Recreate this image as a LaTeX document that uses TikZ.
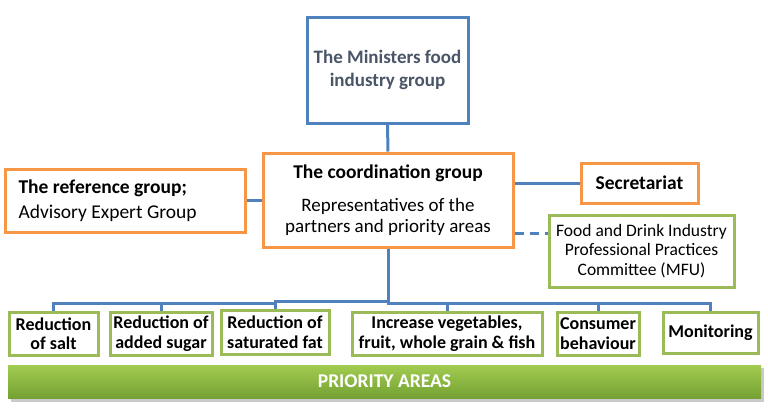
\documentclass[tikz,border=0pt]{standalone}
\usepackage{fontspec}
\setmainfont{Carlito}
\definecolor{lblue}{HTML}{4F81BD}
\definecolor{orng}{HTML}{F79646}
\definecolor{grn}{HTML}{9BBB59}
\definecolor{slate}{HTML}{4A5568}
\definecolor{bartop}{HTML}{A2CC50}
\definecolor{barbot}{HTML}{74A133}
\tikzset{
  conn/.style={draw=lblue, line width=3pt},
  obox/.style={draw=orng, line width=3pt, fill=white, inner sep=0pt},
  gbox/.style={draw=grn, line width=3pt, fill=white, inner sep=0pt, align=center},
  bbox/.style={draw=lblue, line width=3pt, fill=white, inner sep=0pt, align=center},
  prio/.style={gbox, font=\fontsize{18}{19.5}\selectfont\bfseries}
}
\begin{document}
\begin{tikzpicture}[x=1pt,y=-1pt]
\useasboundingbox (0,0) rectangle (768,416);
% bar
\fill[black!35, opacity=0.6] (11,368) rectangle (764,402);
\node[inner sep=0pt, minimum width=753pt, minimum height=33pt, top color=bartop, bottom color=barbot, draw=none,
  text=white, font=\fontsize{19.5}{22}\selectfont\bfseries] (bar) at (384.5,381.5) {PRIORITY AREAS};

% top nodes
\node[bbox, minimum width=161pt, minimum height=106pt, text=slate, font=\fontsize{19}{22.5}\selectfont\bfseries] (min) at (387.5,70) {The Ministers food\\industry group};
\node[obox, minimum width=250pt, minimum height=94pt, align=center, font=\fontsize{19}{21}\selectfont] (coord) at (388,200) {\textbf{\fontsize{19.5}{21}\selectfont The coordination group}\\[12pt]Representatives of the\\partners and priority areas};
\node[obox, minimum width=240pt, minimum height=63pt, align=flush left, text width=213pt, inner xsep=13.5pt, font=\fontsize{19.5}{25}\selectfont] (ref) at (125,200.5) {\textbf{The reference group;}\\Advisory Expert Group};
\node[obox, minimum width=117pt, minimum height=40pt, font=\fontsize{19.5}{22}\selectfont\bfseries] (sec) at (639.5,183) {Secretariat};
\node[gbox, minimum width=185pt, minimum height=72pt, font=\fontsize{17.5}{19.5}\selectfont] (mfu) at (641.5,251) {Food and Drink Industry\\Professional Practices\\Committee (MFU)};

% bottom boxes
\node[prio, minimum width=89pt, minimum height=43pt] (p1) at (53.5,333.5) {Reduction\\of salt};
\node[prio, minimum width=102pt, minimum height=43pt] (p2) at (161,333.5) {Reduction of\\added sugar};
\node[prio, minimum width=108pt, minimum height=44pt] (p3) at (275,332) {Reduction of\\saturated fat};
\node[prio, minimum width=190pt, minimum height=43pt] (p4) at (447,333.5) {Increase vegetables,\\fruit, whole grain \& fish};
\node[prio, minimum width=82pt, minimum height=43pt] (p5) at (598,333.5) {Consumer\\behaviour};
\node[prio, minimum width=95pt, minimum height=41pt] (p6) at (710.5,332.5) {Monitoring};

% connectors
\coordinate (jL) at (275,303);
\coordinate (jR) at (388,301);
\draw[conn] (min.south) -- (coord.north);
\draw[conn] (ref.east) -- (coord.west |- ref.east);
\draw[conn] (coord.east |- sec.west) -- (sec.west);
\draw[conn, dashed, dash pattern=on 9pt off 6pt] (coord.east |- 0,233) -- (mfu.west |- 0,233);
\draw[conn] (coord.south) -- (jR);
\draw[conn] (p1.north) -- (p1.north |- jL) -- (jL) -- (275,301) -- (jR);
\draw[conn] (p2.north) -- (p2.north |- jL);
\draw[conn] (p3.north) -- (jL);
\draw[conn] (jR) -- (388,303) -- (p6.north |- jL) -- (p6.north);
\draw[conn] (p4.north) -- (p4.north |- jL);
\draw[conn] (p5.north) -- (p5.north |- jL);
\end{tikzpicture}
\end{document}
